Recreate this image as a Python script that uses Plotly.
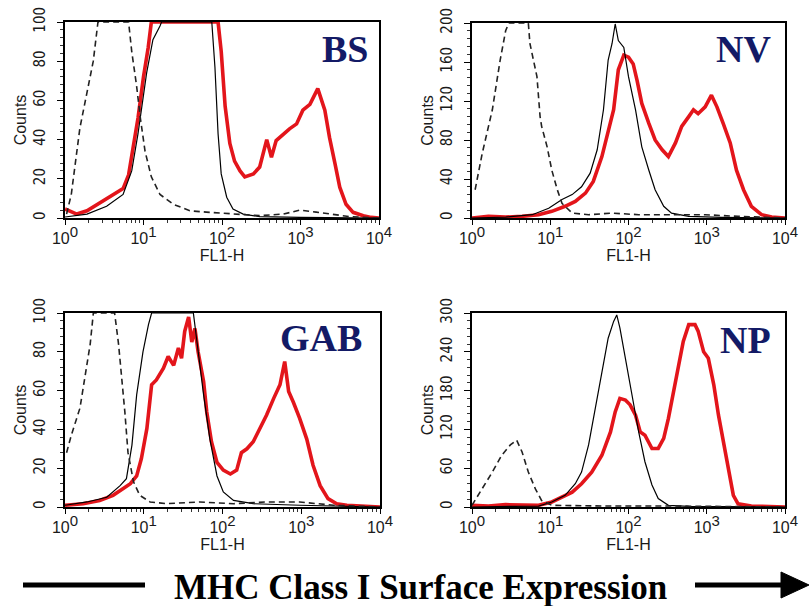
import plotly.graph_objects as go

# ---------------- data (x as log10 of FL1-H, y as counts) ----------------
panels = ["BS", "NV", "GAB", "NP"]

bs_red_lx = [0.0, 0.15, 0.28, 0.45, 0.62, 0.74, 0.81, 0.87, 0.93, 1.0, 1.06, 1.10, 1.95, 1.99, 2.04, 2.10, 2.16, 2.23, 2.29, 2.40, 2.48, 2.57, 2.63, 2.69, 2.78, 2.86, 2.95, 3.03, 3.12, 3.22, 3.31, 3.37, 3.44, 3.50, 3.58, 3.67, 3.80, 3.90, 4.0]
bs_red_y = [4.6, 2, 3.7, 8, 12, 15, 22, 36, 51, 72, 87, 100, 100, 85, 57, 38, 29, 24, 21, 22.5, 26, 40, 31, 39.5, 43, 45.5, 48, 55, 58, 66, 55, 41, 27.6, 15.7, 7, 2.9, 1.2, 0.3, 0]
bs_blk_lx = [0.0, 0.28, 0.53, 0.74, 0.85, 0.93, 1.04, 1.12, 1.21, 1.23, 1.87, 1.91, 1.95, 1.99, 2.06, 2.14, 2.27, 2.48, 3.0, 4.0]
bs_blk_y = [0.5, 2, 6, 12, 24, 43, 74, 91, 98, 100, 100, 77, 43, 22.5, 10.6, 4.6, 2, 0.7, 0.3, 0]
bs_dash_lx = [0.02, 0.08, 0.19, 0.30, 0.36, 0.42, 0.81, 0.85, 0.91, 0.96, 1.02, 1.10, 1.21, 1.38, 1.59, 1.80, 2.14, 2.48, 2.78, 2.99, 3.20, 3.41, 3.63, 4.0]
bs_dash_y = [2, 12, 46, 68, 80, 100, 100, 85, 68, 51, 34, 21, 12, 7, 3.7, 3, 2, 1.2, 2, 4, 3, 2, 0.7, 0]

nv_red_lx = [0.0, 0.21, 0.43, 0.64, 0.85, 1.02, 1.19, 1.32, 1.45, 1.55, 1.66, 1.74, 1.81, 1.87, 1.94, 2.00, 2.06, 2.11, 2.17, 2.26, 2.34, 2.43, 2.51, 2.60, 2.68, 2.77, 2.83, 2.89, 2.98, 3.06, 3.13, 3.21, 3.30, 3.38, 3.47, 3.57, 3.70, 3.83, 4.0]
nv_red_y = [0, 1.7, 1, 1.7, 3.4, 6.8, 12, 17, 25.5, 37.5, 63, 87, 111, 152, 167, 165, 158, 141, 117.5, 97, 80, 70, 63, 77, 94, 104, 111, 107, 114, 126, 114, 97, 77, 49, 29, 12, 3.4, 1, 0]
nv_blk_lx = [0.0, 0.43, 0.77, 0.98, 1.15, 1.28, 1.40, 1.51, 1.60, 1.68, 1.74, 1.79, 1.83, 1.87, 1.94, 2.0, 2.09, 2.17, 2.26, 2.34, 2.45, 2.55, 2.77, 3.19, 4.0]
nv_blk_y = [0, 1, 3.4, 10, 19, 24, 32, 46, 70, 111, 162, 179, 199, 182, 175, 145, 111, 73, 49, 29, 12, 5, 1.7, 0.7, 0]
nv_dash_lx = [0.04, 0.13, 0.26, 0.36, 0.43, 0.47, 0.72, 0.74, 0.83, 0.87, 0.89, 0.96, 1.02, 1.09, 1.15, 1.28, 1.49, 1.79, 2.13, 2.55, 2.98, 3.40, 4.0]
nv_dash_y = [29, 66, 111, 162, 192, 200, 200, 179, 145, 104, 94, 73, 49, 29, 15, 5, 3.4, 5, 3.4, 3.4, 3.4, 1.7, 0]

gab_red_lx = [0.0, 0.23, 0.44, 0.61, 0.74, 0.83, 0.91, 0.97, 1.04, 1.10, 1.16, 1.25, 1.31, 1.38, 1.44, 1.48, 1.52, 1.57, 1.61, 1.65, 1.69, 1.76, 1.80, 1.86, 1.93, 2.01, 2.10, 2.18, 2.24, 2.31, 2.39, 2.48, 2.56, 2.65, 2.73, 2.79, 2.84, 2.90, 2.98, 3.07, 3.15, 3.24, 3.34, 3.45, 3.58, 4.0]
gab_red_y = [0.9, 1.7, 3.4, 6, 9.5, 12, 16, 25, 40.5, 63, 65.5, 71.5, 77.6, 73, 82, 76.7, 90.5, 98, 85, 92, 80, 64.7, 49, 33.6, 23, 19, 17, 19, 28, 30, 33.6, 40.5, 47.4, 56, 63, 75, 59.5, 54, 45.7, 35, 21.5, 11, 4.3, 1.7, 0.9, 0]
gab_blk_lx = [0.0, 0.28, 0.53, 0.70, 0.78, 0.85, 0.91, 0.99, 1.06, 1.10, 1.63, 1.69, 1.76, 1.84, 1.93, 2.01, 2.14, 2.39, 2.98, 4.0]
gab_blk_y = [0.9, 2.6, 5, 11, 14.6, 31.9, 57.8, 80, 94, 100, 100, 80, 57.8, 35, 16, 7.8, 3.4, 1.7, 0.9, 0]
gab_dash_lx = [0.02, 0.08, 0.19, 0.25, 0.32, 0.36, 0.63, 0.68, 0.72, 0.76, 0.80, 0.87, 0.95, 1.08, 1.29, 1.71, 2.14, 2.56, 2.98, 3.41, 4.0]
gab_dash_y = [28, 37, 51, 66, 84, 100, 100, 84, 68, 49, 28, 13, 6, 2.6, 1.7, 2.6, 1.7, 2.6, 2.6, 0.9, 0]

np_red_lx = [0.0, 0.21, 0.43, 0.85, 1.02, 1.15, 1.28, 1.40, 1.53, 1.66, 1.77, 1.83, 1.89, 1.96, 2.02, 2.09, 2.15, 2.21, 2.30, 2.38, 2.45, 2.51, 2.57, 2.64, 2.70, 2.77, 2.85, 2.89, 2.96, 3.02, 3.09, 3.15, 3.21, 3.28, 3.34, 3.40, 3.57, 4.0]
np_red_y = [2.6, 1.5, 3.6, 2.6, 7.8, 15.5, 23, 36, 54, 80, 116, 147, 168, 165.5, 158, 142, 116, 111, 90.5, 90.5, 106, 137, 173, 215, 256, 282, 282, 272, 240, 230, 189, 142, 101, 54, 18, 5, 1.5, 0]
np_blk_lx = [0.0, 0.85, 1.02, 1.19, 1.32, 1.40, 1.49, 1.57, 1.66, 1.74, 1.81, 1.85, 1.89, 1.96, 2.04, 2.13, 2.21, 2.30, 2.38, 2.51, 2.77, 4.0]
np_blk_y = [0, 1.5, 7.8, 18, 36, 54, 96, 147, 210, 261, 287, 297, 277, 230, 173, 116, 70, 34, 13, 2.6, 1, 0]
np_dash_lx = [0.0, 0.13, 0.26, 0.38, 0.49, 0.57, 0.64, 0.72, 0.81, 0.89, 1.02, 1.70, 2.55, 4.0]
np_dash_y = [2.6, 28, 54, 80, 96, 103.5, 85, 54, 28, 10, 2.6, 1.5, 1.5, 0]

y_max = [100, 200, 100, 300]
y_step = [20, 40, 20, 60]
x_tick_vals = [1, 10, 100, 1000, 10000]
x_tick_exp = ["0", "1", "2", "3", "4"]
x_title = "FL1-H"
y_title = "Counts"
bottom_label = "MHC Class I Surface Expression"

series = [
    (bs_red_lx, bs_red_y, bs_blk_lx, bs_blk_y, bs_dash_lx, bs_dash_y),
    (nv_red_lx, nv_red_y, nv_blk_lx, nv_blk_y, nv_dash_lx, nv_dash_y),
    (gab_red_lx, gab_red_y, gab_blk_lx, gab_blk_y, gab_dash_lx, gab_dash_y),
    (np_red_lx, np_red_y, np_blk_lx, np_blk_y, np_dash_lx, np_dash_y),
]

# ---------------- layout geometry (pixels) ----------------
W, H = 810, 606
boxes = [(65, 379, 22, 218), (472, 785, 23, 218), (65, 380, 313, 507), (472, 785, 313, 507)]
title_pos = [(0.892, 0.862), (0.869, 0.867), (0.813, 0.871), (0.875, 0.861)]

RED = "#e3151b"
NAVY = "#131a66"
SANS = "Liberation Sans, Arial, sans-serif"
NARROW = "Liberation Sans Narrow, DejaVu Sans Condensed, Liberation Sans, sans-serif"

x_tick_text = [f"10<sup><span style='font-size:15px'>{e}</span></sup>" for e in x_tick_exp]


def px_x(p):
    return p / W


def px_y(p):
    return 1 - p / H


fig = go.Figure()
layout = dict(width=W, height=H, margin=dict(l=0, r=0, t=0, b=0, autoexpand=False),
              paper_bgcolor="white", plot_bgcolor="white", showlegend=False,
              annotations=[], shapes=[])

for i, name in enumerate(panels):
    rx, ry, bx, by, dx, dy = series[i]
    xa = "x" if i == 0 else f"x{i+1}"
    ya = "y" if i == 0 else f"y{i+1}"
    fig.add_trace(go.Scatter(x=[10 ** v for v in rx], y=ry, mode="lines", xaxis=xa, yaxis=ya,
                             line=dict(color=RED, width=3.6)))
    fig.add_trace(go.Scatter(x=[10 ** v for v in bx], y=by, mode="lines", xaxis=xa, yaxis=ya,
                             line=dict(color="black", width=1.2)))
    fig.add_trace(go.Scatter(x=[10 ** v for v in dx], y=dy, mode="lines", xaxis=xa, yaxis=ya,
                             line=dict(color="#222222", width=1.6, dash="6px,4px")))
    x0, x1, y0, y1 = boxes[i]
    xkey = "xaxis" if i == 0 else f"xaxis{i+1}"
    ykey = "yaxis" if i == 0 else f"yaxis{i+1}"
    layout[xkey] = dict(
        type="log", range=[0, 4], domain=[px_x(x0), px_x(x1)], anchor=ya, automargin=False,
        tickmode="array", tickvals=x_tick_vals, ticktext=x_tick_text,
        ticks="outside", ticklen=5, tickcolor="black", ticklabelstandoff=0,
        showline=True, linecolor="black", linewidth=2, mirror=True,
        showgrid=False, zeroline=False,
        tickfont=dict(family=SANS, size=16, color="#1a1a1a"),
        title=dict(text=x_title, standoff=2, font=dict(family=SANS, size=16, color="#1a1a1a")),
        minor=dict(ticks="outside", ticklen=3, dtick="D1", tickcolor="#333333", showgrid=False),
    )
    layout[ykey] = dict(
        range=[0, y_max[i]], domain=[px_y(y1), px_y(y0)], anchor=xa, automargin=False,
        tickmode="linear", tick0=0, dtick=y_step[i], tickangle=-90,
        ticks="outside", ticklen=6, tickcolor="black", ticklabelstandoff=6,
        showline=True, linecolor="black", linewidth=2, mirror=True,
        showgrid=False, zeroline=False,
        tickfont=dict(family=NARROW, size=15, color="#1a1a1a"),
        title=dict(text=y_title, standoff=0, font=dict(family=SANS, size=16, color="#1a1a1a")),
        minor=dict(ticks="outside", ticklen=3, dtick=y_step[i] / 5, tickcolor="#333333", showgrid=False),
    )
    tx, ty = title_pos[i]
    layout["annotations"].append(dict(
        text=f"<b>{name}</b>", xref=f"{xa} domain", yref=f"{ya} domain", x=tx, y=ty,
        xanchor="center", yanchor="middle", showarrow=False,
        font=dict(family="Liberation Serif", size=38, color=NAVY)))

# bottom label with line and arrow
layout["annotations"].append(dict(
    text=f"<b>{bottom_label}</b>", xref="paper", yref="paper", x=px_x(421), y=px_y(587),
    xanchor="center", yanchor="middle", showarrow=False,
    font=dict(family="Liberation Serif", size=35, color="black")))
layout["shapes"].append(dict(type="line", xref="paper", yref="paper",
                             x0=px_x(23), x1=px_x(145), y0=px_y(585), y1=px_y(585),
                             line=dict(color="black", width=5)))
layout["shapes"].append(dict(type="line", xref="paper", yref="paper",
                             x0=px_x(695), x1=px_x(785), y0=px_y(585), y1=px_y(585),
                             line=dict(color="black", width=5)))
layout["shapes"].append(dict(type="path", xref="paper", yref="paper",
                             path=f"M {px_x(781)},{px_y(572)} L {px_x(809)},{px_y(585)} L {px_x(781)},{px_y(598)} Z",
                             fillcolor="black", line=dict(color="black", width=1)))

fig.update_layout(**layout)
fig.write_html("out.html")
